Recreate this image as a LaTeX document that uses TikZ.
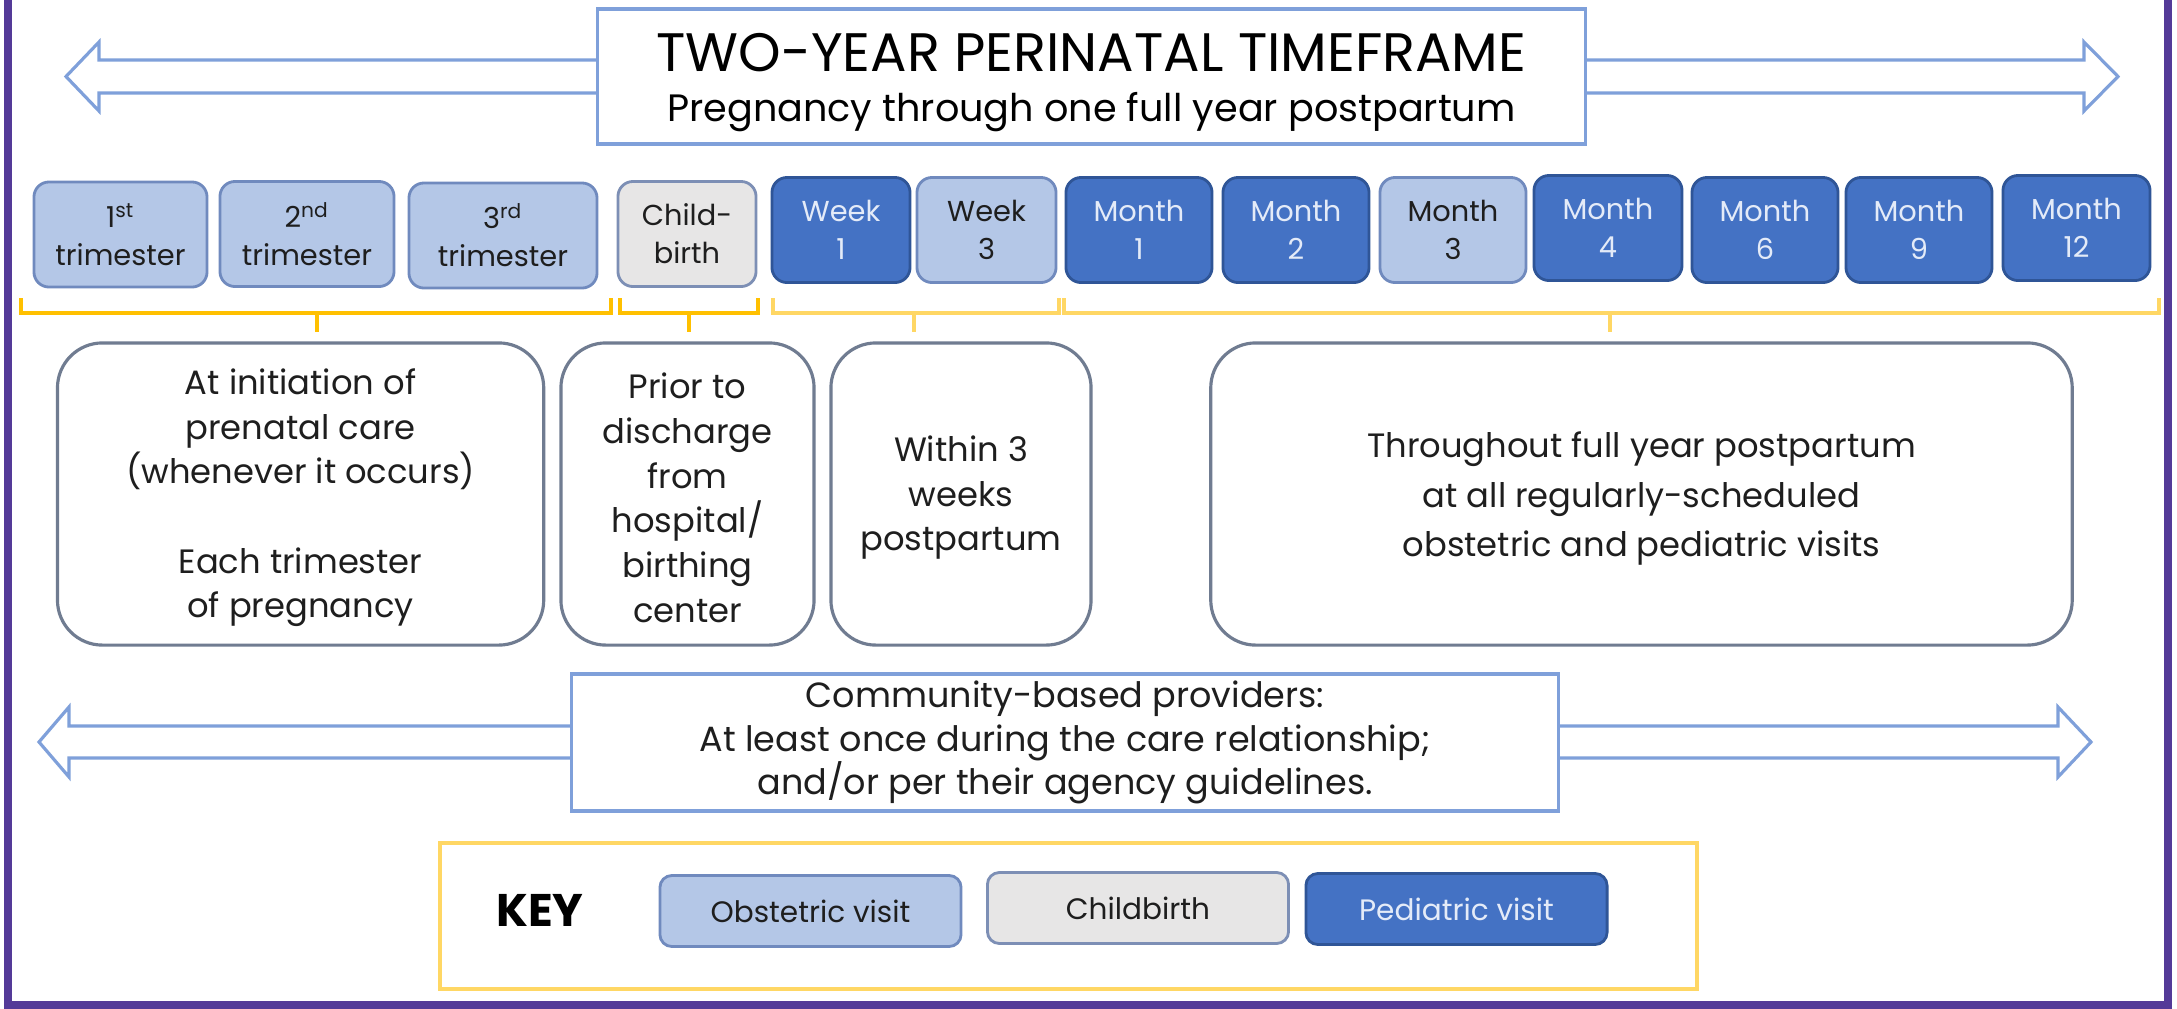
\documentclass[tikz,border=0pt]{standalone}
\usepackage{fontspec}
\setmainfont{Poppins}
\definecolor{arrowblue}{RGB}{127,160,218}
\definecolor{obsfill}{RGB}{180,199,231}
\definecolor{obsdraw}{RGB}{112,138,190}
\definecolor{cbfill}{RGB}{231,230,230}
\definecolor{cbdraw}{RGB}{125,143,181}
\definecolor{pedfill}{RGB}{68,114,196}
\definecolor{peddraw}{RGB}{47,85,151}
\definecolor{pedtxt}{RGB}{228,235,248}
\definecolor{boxdraw}{RGB}{112,124,145}
\definecolor{gold}{RGB}{255,192,0}
\definecolor{lightgold}{RGB}{255,215,100}
\definecolor{framepurple}{RGB}{84,58,152}
\definecolor{txt}{RGB}{30,30,30}
\newcommand\btnfont{\fontsize{8.2}{10.8}\selectfont}
\newcommand\boxfont{\fontsize{9.6}{12.7}\selectfont}
\newcommand\boxfontwide{\fontsize{9.6}{14}\selectfont}
\newcommand\ttlfont{\fontsize{15.4}{14.2}\selectfont}
\newcommand\mysubfont{\fontsize{10.85}{14.2}\selectfont}
\newcommand\commfont{\fontsize{9.95}{12.4}\selectfont}
\newcommand\mykeyfont{\bfseries\fontsize{13}{15}\selectfont}
\newcommand\keybtnfont{\fontsize{8.4}{11}\selectfont}
\begin{document}
\begin{tikzpicture}[x=0.01cm, y=-0.01cm,
  btn/.style={rounded corners=0.15cm, line width=0.8pt, align=center, inner sep=0pt, font=\btnfont, minimum height=1.05cm},
  obs/.style={btn, fill=obsfill, draw=obsdraw, text=txt},
  cbs/.style={btn, fill=cbfill, draw=cbdraw, text=txt},
  ped/.style={btn, fill=pedfill, draw=peddraw, text=pedtxt},
  kbtn/.style={rounded corners=0.12cm, line width=0.8pt, align=center, inner sep=0pt, font=\keybtnfont, minimum width=3.01cm, minimum height=0.71cm},
  tbox/.style={draw=boxdraw, fill=white, rounded corners=0.45cm, line width=0.9pt, align=center, inner sep=0pt, text=txt, font=\boxfont, minimum height=3.02cm},
  outline/.style={draw=arrowblue, line width=0.9pt, fill=white, line join=miter},
  bracket/.style={line width=1.1pt},
  framestyle/.style={draw=framepurple, line width=2pt}
]
\useasboundingbox (0,0) rectangle (2177,1008);
\fill[white] (0,0) rectangle (2177,1008);

% outer frame
\draw[framestyle] (8,-20) -- (8,1005) -- (2168,1005) -- (2168,-20);

% top double arrow and title box
\draw[outline] (66,76.5) -- (99,42) -- (99,60) -- (2084,60) -- (2084,42) -- (2118,76.5) -- (2084,111) -- (2084,93) -- (99,93) -- (99,111) -- cycle;
\node[outline, inner sep=0pt, minimum width=9.87cm, minimum height=1.35cm] (title) at (1091.5,76.5) {};
\node[align=center, inner sep=0pt, font=\mysubfont, text=black] (titletext) at ([yshift=-0.06cm]title.center)
  {{\ttlfont TWO-YEAR PERINATAL TIMEFRAME}\\Pregnancy through one full year postpartum};

% row of visit buttons
\node[obs, minimum width=1.73cm] (t1) at (120.5,234.5) {1\textsuperscript{st}\\trimester};
\node[obs, minimum width=1.74cm] (t2) at (307,234) {2\textsuperscript{nd}\\trimester};
\node[obs, minimum width=1.88cm] (t3) at (503,235.5) {3\textsuperscript{rd}\\trimester};
\node[cbs, minimum width=1.38cm] (cb) at (687,234) {Child-\\birth};
\node[ped, minimum width=1.38cm] (w1) at (841,230) {Week\\1};
\node[obs, minimum width=1.39cm] (w3) at (986.5,230) {Week\\3};
\node[ped, minimum width=1.46cm] (m1) at (1139,230) {Month\\1};
\node[ped, minimum width=1.46cm] (m2) at (1296,230) {Month\\2};
\node[obs, minimum width=1.46cm] (m3) at (1453,230) {Month\\3};
\node[ped, minimum width=1.48cm] (m4) at (1608,228) {Month\\4};
\node[ped, minimum width=1.46cm] (m6) at (1765,230) {Month\\6};
\node[ped, minimum width=1.46cm] (m9) at (1919,230) {Month\\9};
\node[ped, minimum width=1.47cm] (m12) at (2076.5,228) {Month\\12};

% brackets
\draw[bracket, draw=gold] (21,298) -- (21,313) -- (611,313) -- (611,298) (317,313) -- (317,332);
\draw[bracket, draw=gold] (620,298) -- (620,313) -- (758,313) -- (758,298) (689,313) -- (689,332);
\draw[bracket, draw=lightgold] (773,298) -- (773,313) -- (1059,313) -- (1059,298) (914,313) -- (914,332);
\draw[bracket, draw=lightgold] (1064,298) -- (1064,313) -- (2159,313) -- (2159,298) (1610,313) -- (1610,332);

% timing boxes
\node[tbox, minimum width=4.86cm] (b1) at (300.6,494) {\rule{0pt}{9.5pt}At initiation of\\prenatal care\\(whenever it occurs)\\[12.7pt]Each trimester\\of pregnancy};
\node[tbox, minimum width=2.53cm] (b2) at (687.5,494) {\rule{0pt}{9.5pt}Prior to\\discharge\\from\\hospital/\\birthing\\center};
\node[tbox, minimum width=2.60cm] (b3) at (961,494) {\rule{0pt}{9.5pt}Within 3\\weeks\\postpartum};
\node[tbox, minimum width=8.61cm, font=\boxfontwide] (b4) at (1641.5,494) {\rule{0pt}{10pt}Throughout full year postpartum\\at all regularly-scheduled\\obstetric and pediatric visits};

% community arrow and box
\draw[outline] (39,742) -- (69,707) -- (69,726) -- (2058,726) -- (2058,707) -- (2091,742) -- (2058,777) -- (2058,758) -- (69,758) -- (69,777) -- cycle;
\node[outline, align=center, inner sep=0pt, minimum width=9.86cm, minimum height=1.37cm, font=\commfont, text=txt] (comm) at (1065,742.5)
  {Community-based providers:\\At least once during the care relationship;\\and/or per their agency guidelines.};

% key
\node[draw=lightgold, line width=1.1pt, minimum width=12.57cm, minimum height=1.46cm] (keybox) at (1068.5,916) {};
\node[font=\mykeyfont, text=black] (key) at (540,910) {KEY};
\node[kbtn, fill=obsfill, draw=obsdraw, text=txt] (kobs) at (810.5,911) {Obstetric visit};
\node[kbtn, fill=cbfill, draw=cbdraw, text=txt] (kcb) at (1138,908) {Childbirth};
\node[kbtn, fill=pedfill, draw=peddraw, text=pedtxt] (kped) at (1456.5,909) {Pediatric visit};
\end{tikzpicture}
\end{document}
